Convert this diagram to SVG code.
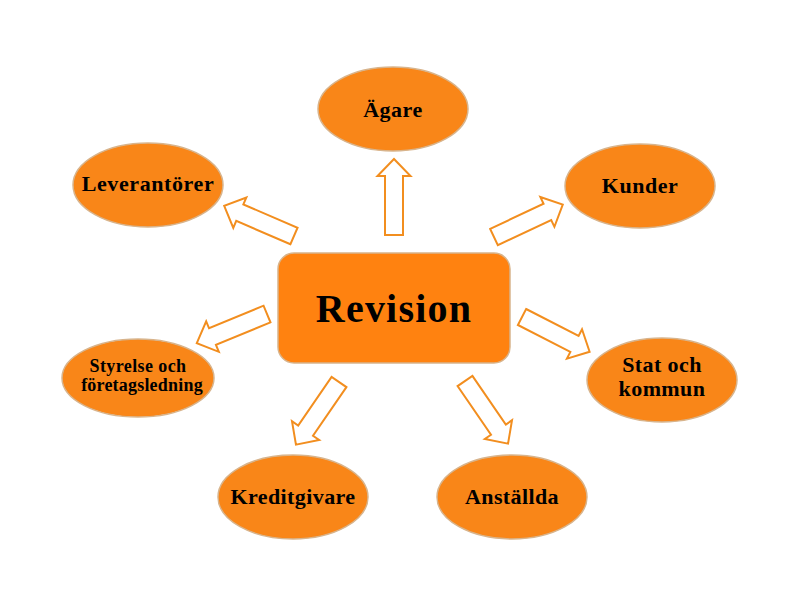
<svg xmlns="http://www.w3.org/2000/svg" width="800" height="600" viewBox="0 0 800 600">
<style>
.node{fill:#F98618;stroke:#D8B48C;stroke-width:1.5}
.box{fill:#FF8210;stroke:#D8B48C;stroke-width:1.5}
.lbl{font-family:"Liberation Serif","Times New Roman",serif;font-weight:bold;fill:#000;text-anchor:middle}
.arr{fill:#FFFFFF;stroke:#F28E1F;stroke-width:2;stroke-linejoin:miter}
</style>
<defs>
<polygon id="a76" points="0,-9 59,-9 59,-16.5 76,0 59,16.5 59,9 0,9"/>
</defs>
<rect width="800" height="600" fill="#FFFFFF"/>
<g id="connectors">
<use href="#a76" class="arr" transform="translate(394,235) rotate(-90)"/>
<use href="#a76" class="arr" transform="translate(294,236) rotate(203.3)"/>
<use href="#a76" class="arr" transform="translate(494,237) rotate(-25.2)"/>
<use href="#a76" class="arr" transform="translate(522,317) rotate(27.2)"/>
<use href="#a76" class="arr" transform="translate(267,314) rotate(157.5)"/>
<use href="#a76" class="arr" transform="translate(339,382) rotate(124.5)"/>
<use href="#a76" class="arr" transform="translate(465,381) rotate(55.5)"/>
</g>
<g id="revision">
<rect class="box" x="278" y="253" width="232" height="110" rx="16" ry="16"/>
<text class="lbl" x="394" y="322" font-size="40" letter-spacing="1.2">Revision</text>
</g>
<g id="agare">
<ellipse class="node" cx="393" cy="109" rx="75" ry="42"/>
<text class="lbl" x="393" y="117" font-size="22" letter-spacing="0.5">Ägare</text>
</g>
<g id="leverantorer">
<ellipse class="node" cx="148" cy="185" rx="75" ry="42"/>
<text class="lbl" x="148" y="191" font-size="22" letter-spacing="0.6">Leverantörer</text>
</g>
<g id="kunder">
<ellipse class="node" cx="640" cy="186" rx="75" ry="42"/>
<text class="lbl" x="640" y="193" font-size="22" letter-spacing="0.5">Kunder</text>
</g>
<g id="styrelse">
<ellipse class="node" cx="138" cy="378" rx="76" ry="39"/>
<text class="lbl" x="138" y="372" font-size="18" letter-spacing="0.4">Styrelse och</text>
<text class="lbl" x="142" y="391" font-size="18" letter-spacing="0.2">företagsledning</text>
</g>
<g id="stat">
<ellipse class="node" cx="662" cy="380" rx="75" ry="42"/>
<text class="lbl" x="662" y="372" font-size="22" letter-spacing="0.4">Stat och</text>
<text class="lbl" x="662" y="396" font-size="22" letter-spacing="0.4">kommun</text>
</g>
<g id="kreditgivare">
<ellipse class="node" cx="293" cy="497" rx="75" ry="42"/>
<text class="lbl" x="293" y="504" font-size="22" letter-spacing="0.4">Kreditgivare</text>
</g>
<g id="anstallda">
<ellipse class="node" cx="512" cy="497" rx="75" ry="42"/>
<text class="lbl" x="512" y="504" font-size="22" letter-spacing="0.4">Anställda</text>
</g>
</svg>
